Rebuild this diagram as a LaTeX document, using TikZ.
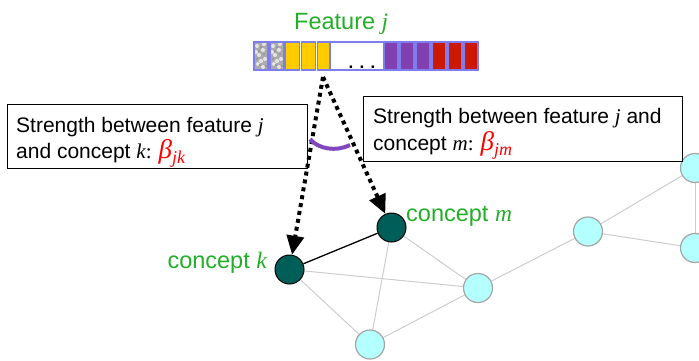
\documentclass[tikz,border=0pt]{standalone}
\usepackage{fontspec}
\setmainfont{Liberation Sans}
\newfontfamily\tms{Liberation Serif}
\usetikzlibrary{arrows.meta,backgrounds}

\definecolor{labelgreen}{RGB}{34,175,40}
\definecolor{darkteal}{RGB}{0,94,88}
\definecolor{lightcyan}{RGB}{180,255,255}
\definecolor{nodegray}{RGB}{165,165,165}
\definecolor{edgegray}{RGB}{205,205,205}
\definecolor{cellborder}{RGB}{125,125,240}
\definecolor{cellgray}{RGB}{172,172,172}
\definecolor{cellyellow}{RGB}{255,204,0}
\definecolor{cellpurple}{RGB}{128,64,176}
\definecolor{cellred}{RGB}{204,24,0}
\definecolor{arcpurple}{RGB}{128,70,190}
\definecolor{betared}{RGB}{255,0,0}

% italic serif variables and the red beta weights
\newcommand{\var}[1]{{\tms\itshape #1}}
\newcommand{\betaw}[1]{{\color{betared}\fontsize{27}{27}\selectfont\tms\itshape β\raisebox{-5pt}{\fontsize{18}{18}\selectfont #1}}}

\begin{document}
\begin{tikzpicture}[x=1pt,y=-1pt,
  cell/.style={rectangle,draw=cellborder,line width=1.5pt,minimum width=14pt,minimum height=28pt,inner sep=0pt},
  concept/.style={circle,fill=darkteal,draw=black,line width=1pt,minimum size=29pt,inner sep=0pt},
  other/.style={circle,fill=lightcyan,draw=nodegray,line width=1.2pt,minimum size=29pt,inner sep=0pt},
  lightedge/.style={draw=edgegray,line width=1pt},
  dotarrow/.style={line width=4pt,dash pattern=on 4pt off 4pt,-{Triangle[length=19pt,width=17pt]}},
  infobox/.style={rectangle,draw=black,line width=1pt,fill=white,anchor=north west,inner sep=0pt},
  boxtext/.style={anchor=base west,inner sep=0pt,font=\fontsize{21}{26}\selectfont},
  greenlabel/.style={inner sep=0pt,text=labelgreen,font=\fontsize{23.5}{23.5}\selectfont}]
\useasboundingbox (0,0) rectangle (699,360);
\clip (0,0) rectangle (699,360);

% ---- feature vector ----
\node[greenlabel,anchor=base west] (ftitle) at (294,29) {Feature \var{j}};

% two stone-textured cells
\foreach \x [count=\i] in {254,270}{
  \node[cell,fill=cellgray] (g\i) at (\x+7,56) {};
  \foreach \dx/\dy in {3/46,9/50,5/55,11/59,4/64,9/67,2/52,10/44,7/61}
    \fill[gray!20] (\x+\dx,\dy) circle (2);
  \foreach \dx/\dy in {7/47,3/59,10/54,6/65,12/66,5/51}
    \fill[gray!80] (\x+\dx,\dy) circle (1.4);
  \node[cell,fill=none] at (\x+7,56) {};
}
\foreach \x [count=\i] in {286,302,318}
  \node[cell,fill=cellyellow] (y\i) at (\x+6.5,56) {};
\node[cell,fill=white,minimum width=54pt] (gap) at (357,56) {};
\node[anchor=base,inner sep=0pt,font=\fontsize{17}{17}\selectfont\bfseries] (dots) at (362,68) {. . .};
\foreach \x [count=\i] in {384,400,416}
  \node[cell,fill=cellpurple] (p\i) at (\x+7,56) {};
\foreach \x [count=\i] in {432,448,464}
  \node[cell,fill=cellred] (r\i) at (\x+7,56) {};

\coordinate (apex) at (323,77);

% ---- concept graph ----
\node[concept] (k) at (289.5,269.5) {};
\node[concept] (m) at (391.5,227.5) {};
\node[other] (A) at (478,288) {};
\node[other] (B) at (370,344.5) {};
\node[other] (C) at (588,231.5) {};
\node[other] (D) at (695,168) {};
\node[other] (E) at (695,248) {};

\begin{pgfonlayer}{background}
  \draw[lightedge] (k) -- (A);
  \draw[lightedge] (k) -- (B);
  \draw[lightedge] (m) -- (A);
  \draw[lightedge] (m) -- (B);
  \draw[lightedge] (B) -- (A);
  \draw[lightedge] (A) -- (C);
  \draw[lightedge] (C) -- (D);
  \draw[lightedge] (C) -- (E);
  \draw[lightedge] (D) -- (E);
\end{pgfonlayer}
\draw[line width=1.3pt] (k) -- (m);

\node[greenlabel,anchor=base east] (klabel) at (267,268) {concept \var{k}};
\node[greenlabel,anchor=base west] (mlabel) at (406,221) {concept \var{m}};

% ---- explanation boxes ----
\node[infobox,minimum width=300pt,minimum height=64pt] (boxk) at (7,104) {};
\node[boxtext] (k1) at (16,132) {Strength between feature \var{j}};
\node[boxtext] (k2) at (16,158) {and concept \var{k}\tms: \betaw{jk}};

\node[infobox,minimum width=319pt,minimum height=65pt] (boxm) at (363,96) {};
\node[boxtext] (m1) at (373,123) {Strength between feature \var{j} and};
\node[boxtext] (m2) at (373,150) {concept \var{m}\tms: \betaw{jm}};

% ---- links from the feature to the two concepts ----
\draw[dotarrow] (apex) -- (k);
\draw[dotarrow] (apex) -- (m);
\draw[arcpurple,line width=4pt] (310,139) .. controls (318,149) and (336,152) .. (350,145);
\end{tikzpicture}
\end{document}
